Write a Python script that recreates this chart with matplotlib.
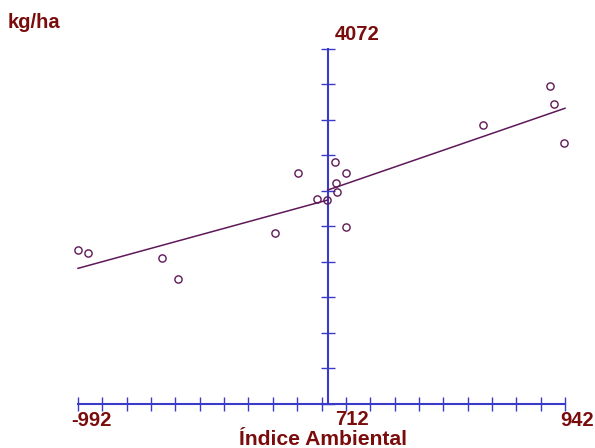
import matplotlib
matplotlib.use('Agg')
import matplotlib.pyplot as plt
import numpy as np

# índice ambiental e produtividade média (kg/ha) de cada ambiente
indice = [-991, -953, -657, -594, -210, -120, -44, -4, 28, 32, 38,
          72, 72, 615, 882, 898, 939]
produtividade = [2170, 2138, 2091, 1895, 2333, 2896, 2652, 2643, 3000, 2807,
                 2716, 2896, 2390, 3353, 3722, 3549, 3179]

# reta bissegmentada (ambientes desfavoráveis / favoráveis)
seg_desf_x = [-992, 0]
seg_desf_y = [1996, 2643]
seg_fav_x = [0, 942]
seg_fav_y = [2737, 3511]

x_min, x_max = -992, 942
y_min, y_max = 712, 4072

AZUL = '#3a3ac8'
ROXO = '#5e1858'
VINHO = '#7a0c0c'

W, H = 595, 448
fig = plt.figure(figsize=(W / 100, H / 100), dpi=100)
ax = fig.add_axes([0, 0, 1, 1])

# escala: eixo x de 78 a 565 px, eixo y de 404 a 49 px
sx = (x_max - x_min) / 487
sy = (y_max - y_min) / 355
ax.set_xlim(x_min - 78 * sx, x_min + (W - 78) * sx)
ax.set_ylim(y_min - (H - 404) * sy, y_min + 404 * sy)

for lado in ('top', 'right'):
    ax.spines[lado].set_visible(False)
ax.spines['left'].set_position(('data', 0))
ax.spines['bottom'].set_position(('data', y_min))
ax.spines['left'].set_bounds(y_min, y_max)
ax.spines['bottom'].set_bounds(x_min, x_max)
for lado in ('left', 'bottom'):
    ax.spines[lado].set_color(AZUL)
    ax.spines[lado].set_linewidth(1.5)

ax.set_xticks(np.linspace(x_min, x_max, 21))
ax.set_yticks(np.linspace(y_min, y_max, 11))
ax.tick_params(direction='inout', length=9.5, width=1.0, color=AZUL,
               labelbottom=False, labelleft=False)

ax.plot(seg_desf_x, seg_desf_y, color=ROXO, lw=1.1, zorder=3)
ax.plot(seg_fav_x, seg_fav_y, color=ROXO, lw=1.1, zorder=3)
ax.plot(indice, produtividade, 'o', mfc='none', mec=ROXO, ms=5.2, mew=1.0,
        zorder=4)

fonte = dict(color=VINHO, fontsize=14.5, fontweight='bold',
             family='Liberation Sans')

ax.annotate(f'{x_min}', (x_min, y_min), xytext=(-4.5, -12),
            textcoords='offset points', ha='left', va='center', **fonte)
ax.annotate(f'{x_max}', (x_max, y_min), xytext=(8.5, -12),
            textcoords='offset points', ha='center', va='center', **fonte)
ax.annotate(f'{y_min}', (0, y_min), xytext=(5.5, -11.5),
            textcoords='offset points', ha='left', va='center', **fonte)
ax.annotate(f'{y_max}', (0, y_max), xytext=(5, 10.5),
            textcoords='offset points', ha='left', va='center', **fonte)
ax.annotate('Índice Ambiental', (0, y_min), xytext=(-3.5, -25.5),
            textcoords='offset points', ha='center', va='center',
            **{**fonte, 'fontsize': 15.2})
fig.text(8 / W, 1 - 22 / H, 'kg/ha', ha='left', va='center', **fonte)

fig.savefig('out.png', dpi=100)
